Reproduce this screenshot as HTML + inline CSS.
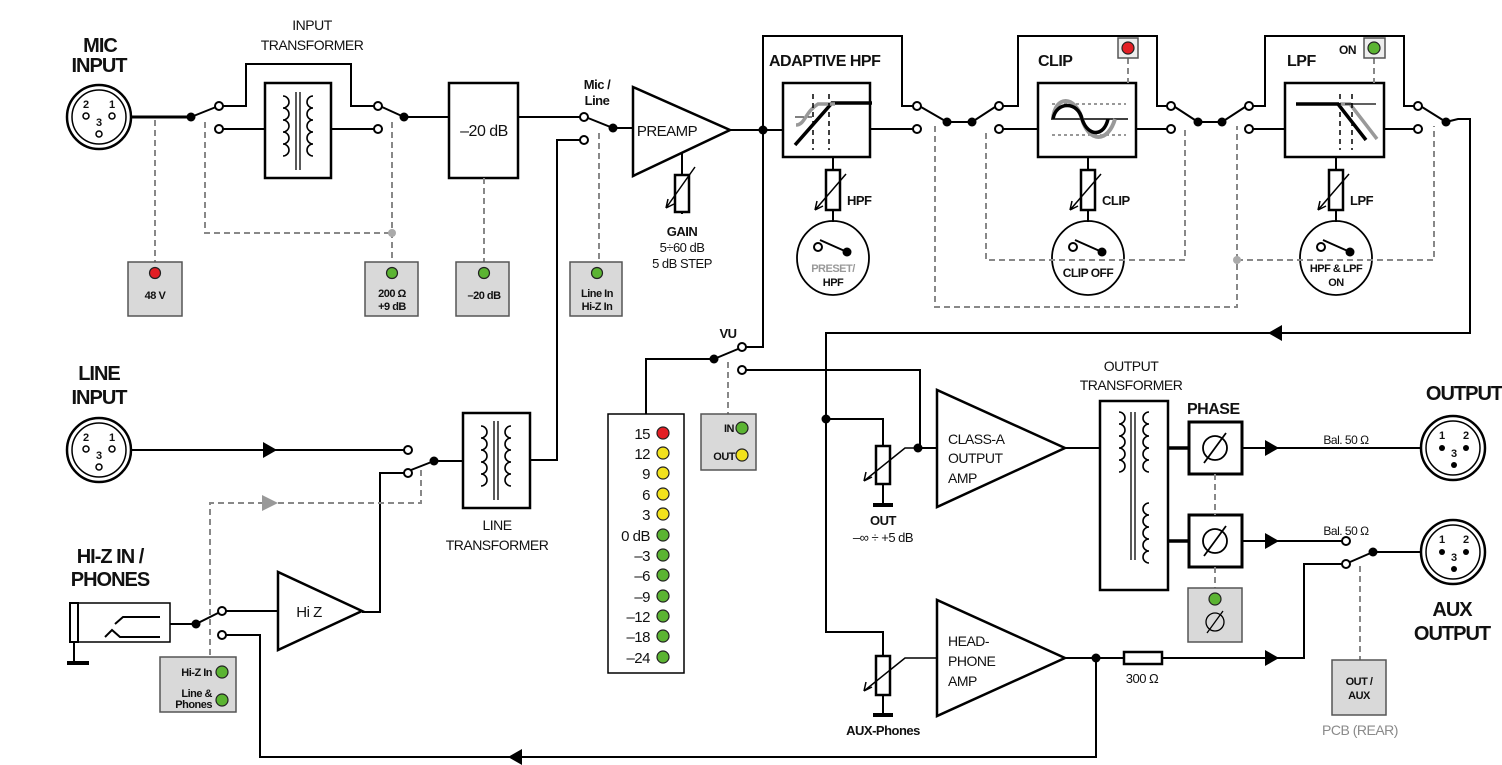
<!DOCTYPE html>
<html><head><meta charset="utf-8"><style>
html,body{margin:0;padding:0;background:#fff}
svg{display:block}
text{font-family:"Liberation Sans",sans-serif;fill:#111}
.b{font-weight:bold}
</style></head><body>
<svg width="1502" height="765" viewBox="0 0 1502 765" xmlns="http://www.w3.org/2000/svg">
<defs>
<g id="dot"><circle r="4.5" fill="#000"/></g>
<g id="oc"><circle r="4" fill="#fff" stroke="#000" stroke-width="2"/></g>
<g id="arr"><path d="M-7,-8 L7,0 L-7,8Z" fill="#000"/></g>
<g id="coil"><path d="M0,0 a6,6 0 0 1 0,12 a6,6 0 0 1 0,12 a6,6 0 0 1 0,12 a6,6 0 0 1 0,12 a6,6 0 0 1 0,12" fill="none" stroke="#000" stroke-width="1.6"/></g>
<g id="coilr"><path d="M0,0 a6,6 0 0 0 0,12 a6,6 0 0 0 0,12 a6,6 0 0 0 0,12 a6,6 0 0 0 0,12 a6,6 0 0 0 0,12" fill="none" stroke="#000" stroke-width="1.6"/></g>
</defs>
<g fill="none" stroke="#000" stroke-width="2">

<circle cx="99" cy="117" r="32" stroke-width="2.5"/><circle cx="99" cy="117" r="27" stroke-width="1.5"/>
<path d="M131,117 H191" stroke-width="3"/>
<path d="M191,117 L216,107"/>
<path d="M223,106 H246 V64 H351 V106 H374"/>
<path d="M223,129 H265 M331,129 H374"/>
<rect x="265" y="83" width="66" height="95" stroke-width="2.5"/>
<path d="M404,117 L382,107"/>
<path d="M404,117 H449"/>
<rect x="449" y="83" width="69" height="95" stroke-width="2.5"/>
<path d="M518,117 H580"/>
<path d="M613,128 L588,118"/>
<path d="M580,140 H557 V460 H531"/>
<path d="M613,128 H633"/>
<path d="M633,87 L633,176 L730,130 Z" stroke-width="2.5"/>
<path d="M682,153 V175 M682,212 V214"/>
<rect x="675" y="175" width="14" height="37" stroke-width="2.5"/>
<path d="M695,167 L666,208 M666,208 l2,-9 M666,208 l8,-4" stroke-width="1.5"/>
<path d="M730,130 H783"/>
<path d="M763,130 V36 H902 V106 H913"/>
<path d="M763,130 V347 H746"/>
<rect x="783" y="83" width="87" height="74" stroke-width="2.5"/>
<path d="M870,129 H913"/>
<path d="M947,122 L921,107 M947,122 H972 L995,107"/>
<path d="M1003,106 H1018 V36 H1157 V106 H1167"/>
<path d="M1003,129 H1038"/>
<rect x="1038" y="83" width="98" height="74" stroke-width="2.5"/>
<path d="M1136,129 H1167"/>
<path d="M1198,122 L1175,107 M1198,122 H1222 L1245,107"/>
<path d="M1253,106 H1265 V36 H1404 V106 H1414"/>
<path d="M1253,129 H1285"/>
<rect x="1285" y="83" width="99" height="74" stroke-width="2.5"/>
<path d="M1384,129 H1414"/>
<path d="M1446,122 L1422,107 M1446,122 L1458,119 H1470 V333 H826 V632 H883 V656"/>
<path d="M826,419 H883 V446"/>

<path d="M833,157 V170 M833,210 V222"/><rect x="826" y="170" width="14" height="40" stroke-width="2.5"/>
<path d="M1088,157 V170 M1088,210 V222"/><rect x="1081" y="170" width="14" height="40" stroke-width="2.5"/>
<path d="M1336,157 V170 M1336,210 V222"/><rect x="1329" y="170" width="14" height="40" stroke-width="2.5"/>
<path d="M846,174 L815,210 M815,210 l2,-9 M815,210 l8,-4 M1101,174 L1070,210 M1070,210 l2,-9 M1070,210 l8,-4 M1349,174 L1318,210 M1318,210 l2,-9 M1318,210 l8,-4" stroke-width="1.5"/>
<ellipse cx="833" cy="258" rx="36" ry="37" stroke-width="1.8"/>
<ellipse cx="1088" cy="258" rx="36" ry="37" stroke-width="1.8"/>
<ellipse cx="1336" cy="258" rx="36" ry="37" stroke-width="1.8"/>
<path d="M820,240 L847,252 M1075,240 L1102,252 M1323,240 L1350,252"/>

<path d="M795,145 L832,103 H872" stroke-width="3.5"/>
<path d="M795,117 H812" stroke-width="1"/>
<path d="M796,125 C805,125 805,112 818,104 H835" stroke="#999" stroke-width="3.5"/>
<path d="M813,94 V150 M829,94 V150" stroke-width="1.5" stroke-dasharray="5,4"/>
<path d="M1051,119 H1128" stroke-width="1.5"/>
<path d="M1052,104 H1126 M1052,135 H1126" stroke="#777" stroke-width="1.5" stroke-dasharray="3,3"/>
<path d="M1053,119 C1055,95 1075,95 1082,119 C1089,143 1108,143 1115,119" stroke="#999" stroke-width="4"/>
<path d="M1053,119 C1056,101 1078,101 1082,119 C1088,137 1104,137 1108,119" stroke-width="3.5"/>
<path d="M1296,104 H1338 L1366,140" stroke-width="3.5"/>
<path d="M1340,104 H1350 L1377,139" stroke="#999" stroke-width="3.5"/>
<path d="M1345,104 H1376" stroke-width="1.2"/>
<path d="M1340,94 V150 M1352,94 V150" stroke-width="1.5" stroke-dasharray="5,4"/>

<circle cx="99" cy="450" r="32" stroke-width="2.5"/><circle cx="99" cy="450" r="27" stroke-width="1.5"/>
<path d="M131,450 H404"/>
<path d="M434,461 L411,470"/>
<path d="M404,473 H380 V612 H362"/>
<path d="M434,461 H463"/>
<rect x="463" y="413" width="67" height="95" stroke-width="2.5"/>
<path d="M531,460 H557"/>

<rect x="70" y="603" width="100" height="39" stroke-width="1.5"/>
<rect x="70" y="603" width="8" height="39" stroke-width="2"/>
<path d="M74,642 V662"/><path d="M67,663 H89" stroke-width="4"/>
<path d="M115,624 L123,617 H160 M105,637 L112,630 L120,637 H160" stroke-width="2"/>
<path d="M170,624 H196 L218,613"/>
<path d="M226,611 H278"/>
<path d="M278,572 L278,650 L362,611 Z" stroke-width="2.5"/>
<path d="M226,635 H260 V757 H1096 V658"/>

<path d="M714,359 L738,349"/>
<path d="M714,359 H646 V414"/>
<path d="M746,370 H920 V448 H937"/>
<rect x="608" y="414" width="76" height="259" stroke-width="1.5"/>

<rect x="876" y="446" width="14" height="38" stroke-width="2.5"/>
<path d="M883,484 V504"/><path d="M873,505 H893" stroke-width="4"/>
<path d="M864,481 L905,448 H920 M864,481 l2,-9 M864,481 l8,-4" stroke-width="1.5"/>
<path d="M937,390 L937,507 L1065,448 Z" stroke-width="2.5"/>
<path d="M1065,448 H1100"/>
<rect x="1100" y="401" width="68" height="189" stroke-width="2.5"/>
<path d="M1131,412 V560 M1135,412 V560" stroke-width="1.3"/>
<path d="M1168,448 H1189 M1168,541 H1189" stroke-width="3.5"/>
<rect x="1189" y="422" width="53" height="52" stroke-width="3"/>
<rect x="1189" y="515" width="53" height="52" stroke-width="3"/>
<path d="M1242,448 H1420"/>
<circle cx="1453" cy="448" r="32" stroke-width="2.5"/><circle cx="1453" cy="448" r="27" stroke-width="1.5"/>
<path d="M1242,541 H1342"/>
<path d="M1373,552 L1350,562 M1373,552 H1420"/>
<path d="M1342,564 H1304 V658 H1162 M1124,658 H1065"/>
<rect x="1124" y="652" width="38" height="12" stroke-width="2.5"/>
<circle cx="1453" cy="552" r="32" stroke-width="2.5"/><circle cx="1453" cy="552" r="27" stroke-width="1.5"/>

<rect x="876" y="656" width="14" height="39" stroke-width="2.5"/>
<path d="M883,695 V714"/><path d="M873,715 H893" stroke-width="4"/>
<path d="M864,691 L905,658 H937 M864,691 l2,-9 M864,691 l8,-4" stroke-width="1.5"/>
<path d="M937,600 L937,716 L1065,658 Z" stroke-width="2.5"/>
</g>

<g transform="translate(283,96)"><use href="#coil"/></g>
<g transform="translate(313,96)"><use href="#coilr"/></g>
<path d="M296,92 V170 M300,92 V170" stroke="#000" stroke-width="1.3"/>
<g transform="translate(481,426)"><use href="#coil"/></g>
<g transform="translate(511,426)"><use href="#coilr"/></g>
<path d="M494,421 V500 M498,421 V500" stroke="#000" stroke-width="1.3"/>
<g transform="translate(1119,412)"><use href="#coil"/></g>
<g transform="translate(1149,412)"><use href="#coilr"/></g>
<g transform="translate(1149,503)"><use href="#coilr"/></g>

<g fill="none" stroke="#888" stroke-width="2" stroke-dasharray="6,4">
<path d="M155,120 V262"/>
<path d="M205,122 V233 H392 M392,122 V262"/>
<path d="M484,178 V262"/>
<path d="M599,133 V262"/>
<path d="M935,126 V307 H1237 V126"/>
<path d="M986,133 V260 H1185 V126"/>
<path d="M1237,260 H1434 V126"/>
<path d="M1128,58 V83 M1374,58 V83"/>
<path d="M421,470 V503 H210 V657"/>
<path d="M728,362 V414"/>
<path d="M1215,474 V515 M1215,567 V588"/>
<path d="M1360,566 V660"/>
</g>
<circle cx="392" cy="233" r="4" fill="#aaa"/>
<circle cx="1237" cy="260" r="4" fill="#aaa"/>
<path d="M262,495 L278,503 L262,511Z" fill="#999"/>

<use href="#dot" x="191" y="117"/><use href="#dot" x="404" y="117"/><use href="#dot" x="613" y="128"/>
<use href="#dot" x="763" y="130"/><use href="#dot" x="947" y="122"/><use href="#dot" x="972" y="122"/>
<use href="#dot" x="1198" y="122"/><use href="#dot" x="1222" y="122"/><use href="#dot" x="1446" y="122"/>
<use href="#dot" x="434" y="461"/><use href="#dot" x="196" y="624"/><use href="#dot" x="714" y="359"/>
<use href="#dot" x="826" y="419"/><use href="#dot" x="918" y="448"/><use href="#dot" x="1096" y="658"/>
<use href="#dot" x="1373" y="552"/>
<use href="#dot" x="847" y="252"/><use href="#dot" x="1102" y="252"/><use href="#dot" x="1350" y="252"/>
<use href="#oc" x="219" y="106"/><use href="#oc" x="219" y="129"/><use href="#oc" x="378" y="106"/><use href="#oc" x="378" y="129"/>
<use href="#oc" x="584" y="117"/><use href="#oc" x="584" y="140"/>
<use href="#oc" x="917" y="106"/><use href="#oc" x="917" y="129"/><use href="#oc" x="999" y="106"/><use href="#oc" x="999" y="129"/>
<use href="#oc" x="1171" y="106"/><use href="#oc" x="1171" y="129"/><use href="#oc" x="1249" y="106"/><use href="#oc" x="1249" y="129"/>
<use href="#oc" x="1418" y="106"/><use href="#oc" x="1418" y="129"/>
<use href="#oc" x="408" y="450"/><use href="#oc" x="408" y="473"/>
<use href="#oc" x="222" y="611"/><use href="#oc" x="222" y="635"/>
<use href="#oc" x="742" y="347"/><use href="#oc" x="742" y="370"/>
<use href="#oc" x="1346" y="541"/><use href="#oc" x="1346" y="564"/>
<use href="#oc" x="818" y="247"/><use href="#oc" x="1073" y="247"/><use href="#oc" x="1321" y="247"/>

<use href="#arr" x="270" y="450"/>
<use href="#arr" x="1272" y="448"/><use href="#arr" x="1272" y="541"/><use href="#arr" x="1272" y="658"/>
<use href="#arr" transform="translate(1275,333) rotate(180)"/>
<use href="#arr" transform="translate(515,757) rotate(180)"/>

<g font-size="11" class="b" text-anchor="middle">
<text x="86" y="108">2</text><text x="112" y="108">1</text><text x="99" y="126">3</text>
<text x="86" y="441">2</text><text x="112" y="441">1</text><text x="99" y="459">3</text>
<text x="1442" y="439">1</text><text x="1466" y="439">2</text><text x="1454" y="457">3</text>
<text x="1442" y="543">1</text><text x="1466" y="543">2</text><text x="1454" y="561">3</text>
</g>
<g fill="#fff" stroke="#000" stroke-width="1.5">
<circle cx="86" cy="116" r="3"/><circle cx="112" cy="116" r="3"/><circle cx="99" cy="134" r="3"/>
<circle cx="86" cy="449" r="3"/><circle cx="112" cy="449" r="3"/><circle cx="99" cy="467" r="3"/>
</g>
<g fill="#000">
<circle cx="1442" cy="448" r="3"/><circle cx="1466" cy="448" r="3"/><circle cx="1454" cy="465" r="3"/>
<circle cx="1442" cy="552" r="3"/><circle cx="1466" cy="552" r="3"/><circle cx="1454" cy="569" r="3"/>
</g>

<g fill="#d9d9d9" stroke="#555" stroke-width="1.5">
<rect x="128" y="262" width="54" height="54"/><rect x="365" y="262" width="53" height="54"/>
<rect x="456" y="262" width="53" height="54"/><rect x="570" y="262" width="52" height="54"/>
<rect x="701" y="414" width="55" height="56"/><rect x="160" y="657" width="76" height="55"/>
<rect x="1188" y="588" width="54" height="54"/><rect x="1332" y="660" width="54" height="55"/>
<rect x="1118" y="38" width="20" height="20" fill="#eee"/><rect x="1364" y="38" width="21" height="20" fill="#eee"/>
</g>
<g stroke="#222" stroke-width="1.2">
<circle cx="155" cy="273" r="5.5" fill="#e31e24"/>
<circle cx="392" cy="273" r="5.5" fill="#5bb432"/>
<circle cx="484" cy="273" r="5.5" fill="#5bb432"/>
<circle cx="597" cy="273" r="5.5" fill="#5bb432"/>
<circle cx="742" cy="428" r="6" fill="#5bb432"/>
<circle cx="742" cy="455" r="6" fill="#f2e21c"/>
<circle cx="222" cy="672" r="6" fill="#5bb432"/>
<circle cx="222" cy="700" r="6" fill="#5bb432"/>
<circle cx="1215" cy="599" r="6" fill="#5bb432"/>
<circle cx="1128" cy="48" r="6" fill="#e31e24"/>
<circle cx="1374" cy="48" r="6" fill="#5bb432"/>
<circle cx="663" cy="433" r="6" fill="#e31e24"/>
<circle cx="663" cy="453" r="6" fill="#f2e21c"/>
<circle cx="663" cy="473" r="6" fill="#f2e21c"/>
<circle cx="663" cy="494" r="6" fill="#f2e21c"/>
<circle cx="663" cy="514" r="6" fill="#f2e21c"/>
<circle cx="663" cy="535" r="6" fill="#5bb432"/>
<circle cx="663" cy="555" r="6" fill="#5bb432"/>
<circle cx="663" cy="575" r="6" fill="#5bb432"/>
<circle cx="663" cy="596" r="6" fill="#5bb432"/>
<circle cx="663" cy="616" r="6" fill="#5bb432"/>
<circle cx="663" cy="636" r="6" fill="#5bb432"/>
<circle cx="663" cy="657" r="6" fill="#5bb432"/>
</g>

<g fill="none" stroke="#000" stroke-width="1.8">
<circle cx="1215" cy="448" r="12"/><path d="M1204,463 L1226,433"/>
<circle cx="1215" cy="541" r="12"/><path d="M1204,556 L1226,526"/>
<circle cx="1215" cy="622" r="9" stroke-width="1.3"/><path d="M1207,633 L1223,611" stroke-width="1.3"/>
</g>

<g class="b" font-size="20" text-anchor="middle" letter-spacing="-1">
<text x="100" y="52">MIC</text><text x="99" y="72">INPUT</text>
<text x="99" y="380">LINE</text><text x="99" y="404">INPUT</text>
<text x="110" y="563">HI-Z IN /</text><text x="110" y="586">PHONES</text>
<text x="1464" y="400">OUTPUT</text>
<text x="1452" y="616">AUX</text><text x="1452" y="640">OUTPUT</text>
</g>
<g class="b" font-size="16" letter-spacing="-0.5">
<text x="769" y="66">ADAPTIVE HPF</text><text x="1038" y="66">CLIP</text><text x="1287" y="66">LPF</text>
<text x="1187" y="414">PHASE</text>
</g>
<g font-size="14" text-anchor="middle" letter-spacing="-0.5">
<text x="312" y="30">INPUT</text><text x="312" y="50">TRANSFORMER</text>
<text x="497" y="530">LINE</text><text x="497" y="550">TRANSFORMER</text>
<text x="1131" y="371">OUTPUT</text><text x="1131" y="390">TRANSFORMER</text>
<text x="484" y="136" font-size="16">–20 dB</text>
<text x="667" y="136" font-size="15">PREAMP</text>
<text x="309" y="617" font-size="15">Hi Z</text>
<text x="682" y="252" font-size="13">5÷60 dB</text><text x="682" y="268" font-size="13">5 dB STEP</text>
<text x="883" y="542" font-size="13">–∞ ÷ +5 dB</text>
<text x="1346" y="444" font-size="12">Bal. 50 Ω</text><text x="1346" y="535" font-size="12">Bal. 50 Ω</text>
<text x="1142" y="683" font-size="13">300 Ω</text>
<text x="1360" y="735" style="fill:#8a8a8a" font-size="14">PCB (REAR)</text>
</g>
<g font-size="14" letter-spacing="-0.5">
<text x="948" y="444">CLASS-A</text><text x="948" y="463">OUTPUT</text><text x="948" y="483">AMP</text>
<text x="948" y="646">HEAD-</text><text x="948" y="666">PHONE</text><text x="948" y="686">AMP</text>
</g>
<g class="b" font-size="13" text-anchor="middle" letter-spacing="-0.5">
<text x="597" y="89">Mic /</text><text x="597" y="105">Line</text>
<text x="682" y="236">GAIN</text><text x="728" y="338">VU</text>
<text x="883" y="525">OUT</text><text x="883" y="735">AUX-Phones</text>
</g>
<g class="b" font-size="13" letter-spacing="-0.5">
<text x="847" y="205">HPF</text><text x="1102" y="205">CLIP</text><text x="1350" y="205">LPF</text>
<text x="1339" y="54" font-size="12">ON</text>
</g>
<g class="b" font-size="11" text-anchor="middle" letter-spacing="-0.5">
<text x="833" y="272" style="fill:#999">PRESET/</text><text x="833" y="286">HPF</text>
<text x="1088" y="277" font-size="12">CLIP OFF</text>
<text x="1336" y="272">HPF &amp; LPF</text><text x="1336" y="286">ON</text>
<text x="155" y="299">48 V</text>
<text x="392" y="297">200 Ω</text><text x="392" y="310">+9 dB</text>
<text x="484" y="299">–20 dB</text>
<text x="597" y="297">Line In</text><text x="597" y="310">Hi-Z In</text>
<text x="1359" y="685">OUT /</text><text x="1359" y="699">AUX</text>
</g>
<g class="b" font-size="11" text-anchor="end" letter-spacing="-0.5">
<text x="734" y="432">IN</text><text x="735" y="460">OUT</text>
<text x="212" y="676">Hi-Z In</text><text x="212" y="697">Line &amp;</text><text x="212" y="708">Phones</text>
</g>
<g font-size="15" text-anchor="end" letter-spacing="-0.5">
<text x="650" y="439">15</text><text x="650" y="459">12</text><text x="650" y="479">9</text>
<text x="650" y="500">6</text><text x="650" y="520">3</text><text x="650" y="541">0 dB</text>
<text x="650" y="561">–3</text><text x="650" y="581">–6</text><text x="650" y="602">–9</text>
<text x="650" y="622">–12</text><text x="650" y="642">–18</text><text x="650" y="663">–24</text>
</g>
</svg>
</body></html>
